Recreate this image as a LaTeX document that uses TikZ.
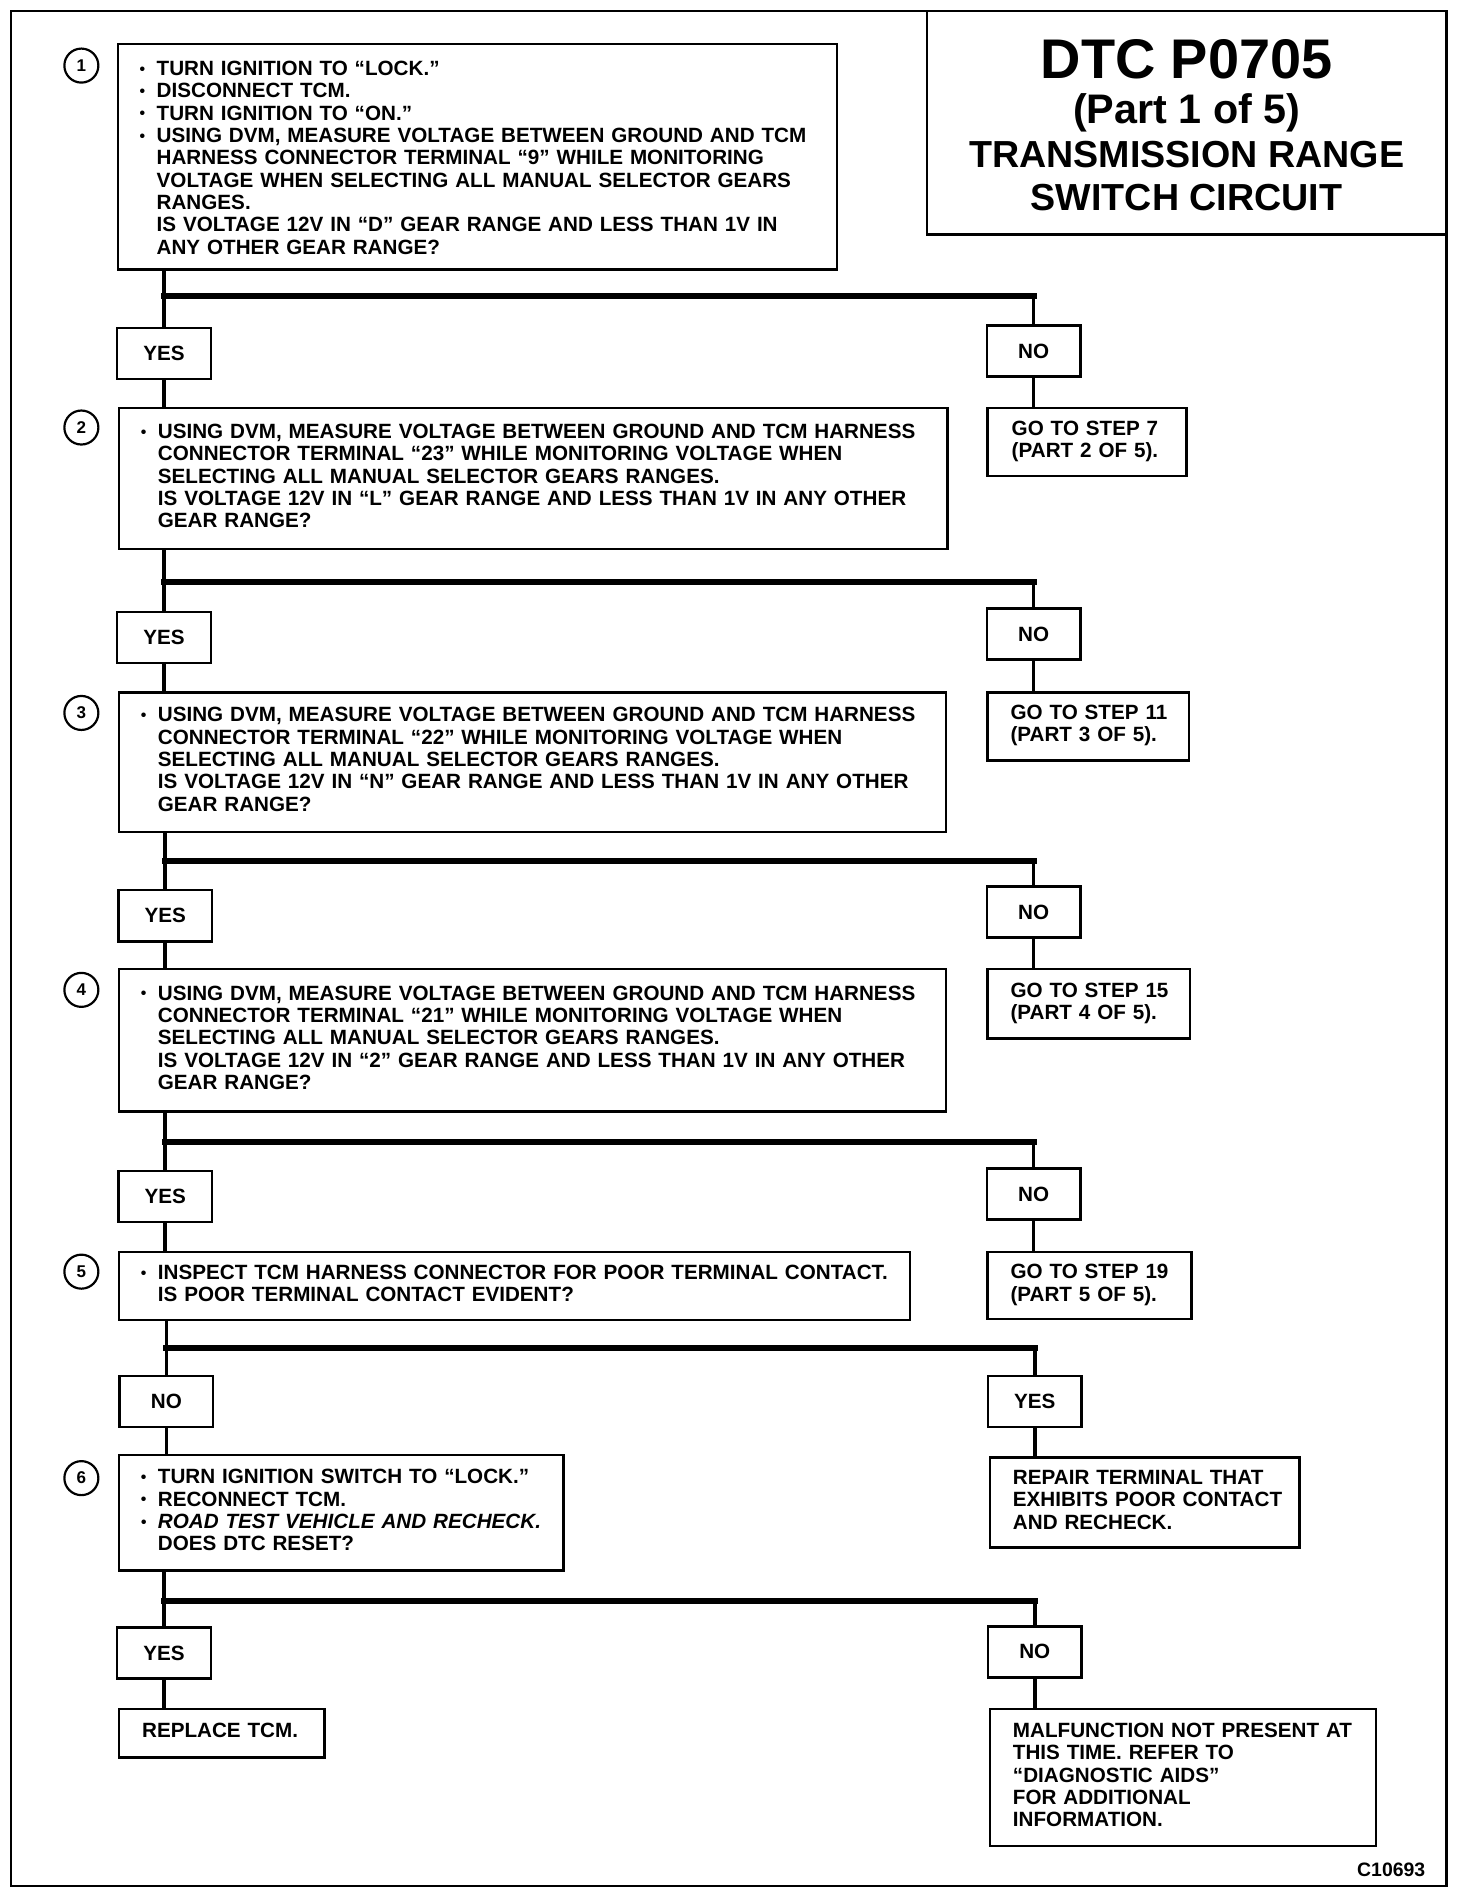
\documentclass[tikz,border=0pt]{standalone}
\usepackage{fontspec}
\setmainfont{Liberation Sans}
\usepackage{array}
\newcommand{\bodyfont}{\fontsize{17}{18.4}\selectfont\bfseries}
\newcommand{\bul}{\makebox[14pt][l]{\fontsize{13}{13}\selectfont\raisebox{1pt}{•}}}
\newcommand{\ind}{\hspace*{14pt}}
\newcommand{\tb}[2]{\begin{tabular}{@{\hspace{#1}}l@{}}#2\end{tabular}}
\newcommand{\lowered}[1]{\raisebox{-3pt}[\height][\depth]{#1}}
\begin{document}
\begin{tikzpicture}[x=1pt,y=-1pt,
  box/.style={draw, line width=2pt, inner sep=0pt, anchor=north west, align=left, font=\bodyfont},
  ans/.style={draw, line width=2pt, inner sep=0pt, minimum width=77pt, minimum height=42pt, font=\bodyfont},
  stepc/.style={draw, circle, line width=1.8pt, minimum size=28pt, inner sep=0pt, font=\fontsize{14}{14}\selectfont\bfseries},
  vl/.style={line width=3pt},
  hl/.style={line width=5pt, line cap=rect}]
\fill[white] (0,0) rectangle (1212,1566);
\useasboundingbox (0,0) rectangle (1212,1566);
% frame and title
\draw[line width=2pt] (9,9) rectangle (1191,1553);
\draw[line width=2pt] (763,9) rectangle (1191,193);
\node[anchor=base, font=\fontsize{46}{50}\selectfont\bfseries] (t1) at (977,65) {DTC P0705};
\node[anchor=base, font=\fontsize{34}{38}\selectfont\bfseries] (t2) at (977,102) {(Part 1 of 5)};
\node[anchor=base, font=\fontsize{31}{35}\selectfont\bfseries] (t3) at (977,138) {TRANSMISSION RANGE};
\node[anchor=base, font=\fontsize{31}{35}\selectfont\bfseries] (t4) at (977,173) {SWITCH CIRCUIT};
\node[anchor=base east, font=\fontsize{16}{16}\selectfont\bfseries] (code) at (1177,1545) {C10693};
% step circles
\node[stepc] (c1) at (67,54) {1};
\node[stepc] (c2) at (67,352) {2};
\node[stepc] (c3) at (67,587) {3};
\node[stepc] (c4) at (67,815) {4};
\node[stepc] (c5) at (67,1047) {5};
\node[stepc] (c6) at (67,1217) {6};
% step boxes
\node[box, minimum width=592pt, minimum height=186pt, text width=592pt] (b1) at (96,35) {\lowered{\tb{18pt}{%
\bul TURN IGNITION TO “LOCK.”\\
\bul DISCONNECT TCM.\\
\bul TURN IGNITION TO “ON.”\\
\bul USING DVM, MEASURE VOLTAGE BETWEEN GROUND AND TCM\\
\ind HARNESS CONNECTOR TERMINAL “9” WHILE MONITORING\\
\ind VOLTAGE WHEN SELECTING ALL MANUAL SELECTOR GEARS\\
\ind RANGES.\\
\ind IS VOLTAGE 12V IN “D” GEAR RANGE AND LESS THAN 1V IN\\
\ind ANY OTHER GEAR RANGE?}}};
\node[box, minimum width=682pt, minimum height=116pt, text width=682pt] (b2) at (97,335) {\tb{18pt}{%
\bul USING DVM, MEASURE VOLTAGE BETWEEN GROUND AND TCM HARNESS\\
\ind CONNECTOR TERMINAL “23” WHILE MONITORING VOLTAGE WHEN\\
\ind SELECTING ALL MANUAL SELECTOR GEARS RANGES.\\
\ind IS VOLTAGE 12V IN “L” GEAR RANGE AND LESS THAN 1V IN ANY OTHER\\
\ind GEAR RANGE?}};
\node[box, minimum width=681pt, minimum height=115pt, text width=681pt] (b3) at (97,569) {\tb{18pt}{%
\bul USING DVM, MEASURE VOLTAGE BETWEEN GROUND AND TCM HARNESS\\
\ind CONNECTOR TERMINAL “22” WHILE MONITORING VOLTAGE WHEN\\
\ind SELECTING ALL MANUAL SELECTOR GEARS RANGES.\\
\ind IS VOLTAGE 12V IN “N” GEAR RANGE AND LESS THAN 1V IN ANY OTHER\\
\ind GEAR RANGE?}};
\node[box, minimum width=681pt, minimum height=117pt, text width=681pt] (b4) at (97,797) {\tb{18pt}{%
\bul USING DVM, MEASURE VOLTAGE BETWEEN GROUND AND TCM HARNESS\\
\ind CONNECTOR TERMINAL “21” WHILE MONITORING VOLTAGE WHEN\\
\ind SELECTING ALL MANUAL SELECTOR GEARS RANGES.\\
\ind IS VOLTAGE 12V IN “2” GEAR RANGE AND LESS THAN 1V IN ANY OTHER\\
\ind GEAR RANGE?}};
\node[box, minimum width=651pt, minimum height=56pt, text width=651pt] (b5) at (97,1030) {\tb{18pt}{%
\bul INSPECT TCM HARNESS CONNECTOR FOR POOR TERMINAL CONTACT.\\
\ind IS POOR TERMINAL CONTACT EVIDENT?}};
\node[box, minimum width=366pt, minimum height=95pt, text width=366pt] (b6) at (97,1197) {\tb{18pt}{%
\bul TURN IGNITION SWITCH TO “LOCK.”\\
\bul RECONNECT TCM.\\
\textit{\bul ROAD TEST VEHICLE AND RECHECK.}\\
\ind DOES DTC RESET?}};
% result boxes
\node[box, minimum width=164pt, minimum height=56pt, text width=164pt] (g1) at (812,335) {\tb{20pt}{GO TO STEP 7\\(PART 2 OF 5).}};
\node[box, minimum width=166pt, minimum height=56pt, text width=166pt] (g2) at (812,569) {\tb{19pt}{GO TO STEP 11\\(PART 3 OF 5).}};
\node[box, minimum width=167pt, minimum height=57pt, text width=167pt] (g3) at (812,797) {\tb{19pt}{GO TO STEP 15\\(PART 4 OF 5).}};
\node[box, minimum width=168pt, minimum height=55pt, text width=168pt] (g4) at (812,1030) {\tb{19pt}{GO TO STEP 19\\(PART 5 OF 5).}};
\node[box, minimum width=255pt, minimum height=74pt, text width=255pt] (g5) at (814,1199) {\tb{19pt}{REPAIR TERMINAL THAT\\EXHIBITS POOR CONTACT\\AND RECHECK.}};
\node[box, minimum width=169pt, minimum height=40pt, text width=169pt] (g6) at (97,1406) {\tb{19pt}{REPLACE TCM.}};
\node[box, minimum width=318pt, minimum height=113pt, text width=318pt] (g7) at (814,1406) {\tb{19pt}{MALFUNCTION NOT PRESENT AT\\THIS TIME. REFER TO\\“DIAGNOSTIC AIDS”\\FOR ADDITIONAL\\INFORMATION.}};
% answer boxes
\node[ans] (y1) at (135,291) {YES};
\node[ans] (n1) at (851,289) {NO};
\node[ans] (y2) at (135,525) {YES};
\node[ans] (n2) at (851,522) {NO};
\node[ans] (y3) at (136,754) {YES};
\node[ans] (n3) at (851,751) {NO};
\node[ans] (y4) at (136,985) {YES};
\node[ans] (n4) at (851,983) {NO};
\node[ans] (y5) at (137,1154) {NO};
\node[ans] (n5) at (852,1154) {YES};
\node[ans] (y6) at (135,1361) {YES};
\node[ans] (n6) at (852,1360) {NO};
% junction levels
\coordinate (h1) at (0,244);
\coordinate (h2) at (0,479);
\coordinate (h3) at (0,709);
\coordinate (h4) at (0,940);
\coordinate (h5) at (0,1110);
\coordinate (h6) at (0,1318);
% connectors
\foreach \k/\nb/\ng in {1/b2/g1, 2/b3/g2, 3/b4/g3, 4/b5/g4, 5/b6/g5, 6/g6/g7}{
  \draw[vl] (b\k.south -| y\k) -- (y\k.north);
  \draw[hl] (h\k -| y\k) -- (h\k -| n\k);
  \draw[vl] (h\k -| n\k) -- (n\k.north);
  \draw[vl] (y\k.south) -- (\nb.north -| y\k);
  \draw[vl] (n\k.south) -- (\ng.north -| n\k);
}
\end{tikzpicture}
\end{document}
